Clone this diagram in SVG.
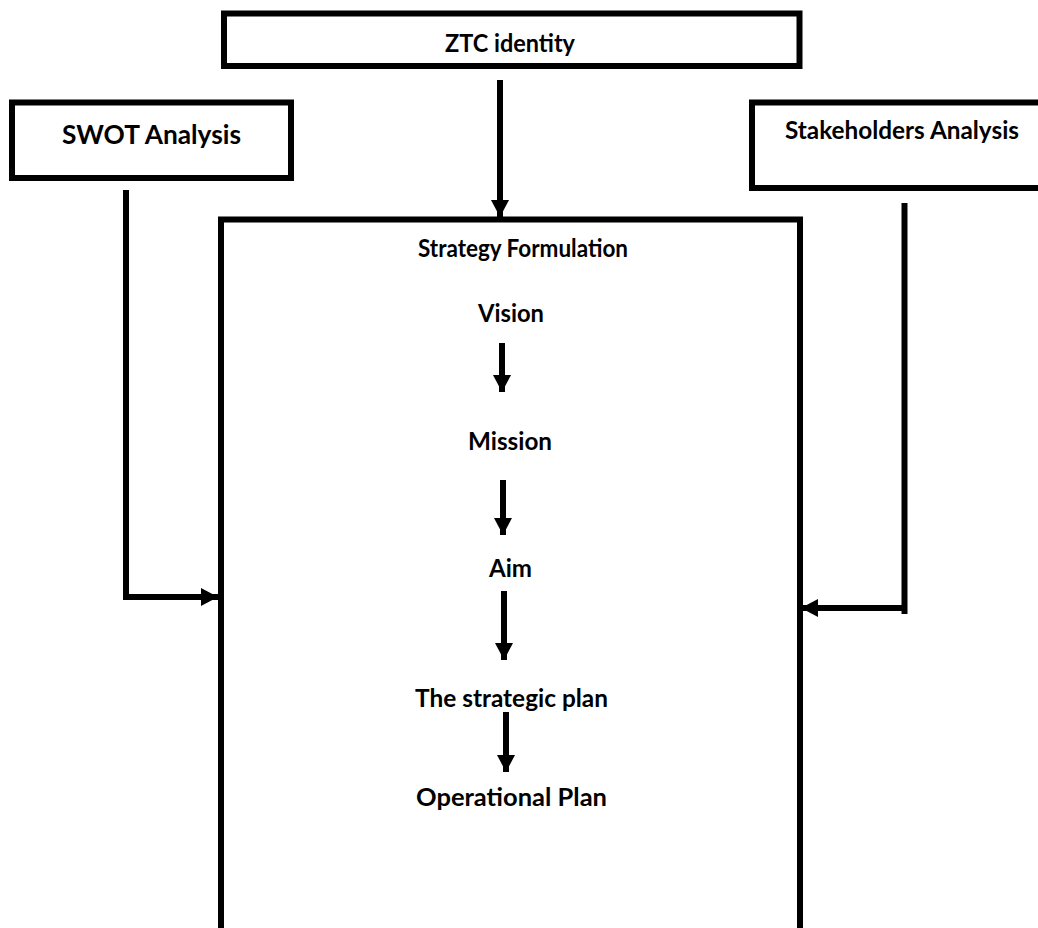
<svg xmlns="http://www.w3.org/2000/svg" width="1038" height="928" viewBox="0 0 1038 928">
<style>
.box{fill:#fff;stroke:#000;stroke-width:6}
.t{font-family:Lato,"Liberation Sans",sans-serif;font-weight:bold;font-size:24px;fill:#000;text-anchor:middle}
.c{fill:none;stroke:#000;stroke-width:6}
</style>
<defs>
<marker id="ah" markerUnits="userSpaceOnUse" markerWidth="18" markerHeight="18" refX="17" refY="9" orient="auto" viewBox="0 0 18 18">
<path d="M0,0 L17,9 L0,18 z" fill="#000"/>
</marker>
</defs>
<rect width="1038" height="928" fill="#fff"/>
<g id="ztc">
<rect class="box" x="224" y="13.5" width="575.5" height="52.5"/>
<text class="t" x="510" y="52" textLength="130" lengthAdjust="spacingAndGlyphs">ZTC identity</text>
</g>
<g id="swot">
<rect class="box" x="12" y="102.5" width="279" height="75.5"/>
<text class="t" x="151.5" y="144" style="font-size:26px" textLength="179" lengthAdjust="spacingAndGlyphs">SWOT Analysis</text>
</g>
<g id="stakeholders">
<rect class="box" x="752" y="102.5" width="300" height="85.5"/>
<text class="t" x="902" y="139" textLength="234" lengthAdjust="spacingAndGlyphs">Stakeholders Analysis</text>
</g>
<g id="strategy">
<rect class="box" x="221" y="219.5" width="579" height="720"/>
<text class="t" x="523" y="257" textLength="210" lengthAdjust="spacingAndGlyphs">Strategy Formulation</text>
<text class="t" x="511" y="322" textLength="66" lengthAdjust="spacingAndGlyphs">Vision</text>
<text class="t" x="510" y="450" textLength="84" lengthAdjust="spacingAndGlyphs">Mission</text>
<text class="t" x="510.5" y="577" textLength="43" lengthAdjust="spacingAndGlyphs">Aim</text>
<text class="t" x="511.5" y="707" textLength="193" lengthAdjust="spacingAndGlyphs">The strategic plan</text>
<text class="t" x="511.5" y="806" textLength="191" lengthAdjust="spacingAndGlyphs">Operational Plan</text>
</g>
<g id="connectors">
<line class="c" x1="500" y1="80" x2="500" y2="217" marker-end="url(#ah)"/>
<polyline class="c" points="126,190 126,597 218,597" marker-end="url(#ah)"/>
<line class="c" x1="904.5" y1="203" x2="904.5" y2="614"/>
<line class="c" x1="907" y1="608" x2="801" y2="608" marker-end="url(#ah)"/>
<line class="c" x1="502" y1="343" x2="502" y2="392" marker-end="url(#ah)"/>
<line class="c" x1="503" y1="480" x2="503" y2="535" marker-end="url(#ah)"/>
<line class="c" x1="504" y1="591" x2="504" y2="660" marker-end="url(#ah)"/>
<line class="c" x1="506" y1="712" x2="506" y2="772" marker-end="url(#ah)"/>
</g>
</svg>
